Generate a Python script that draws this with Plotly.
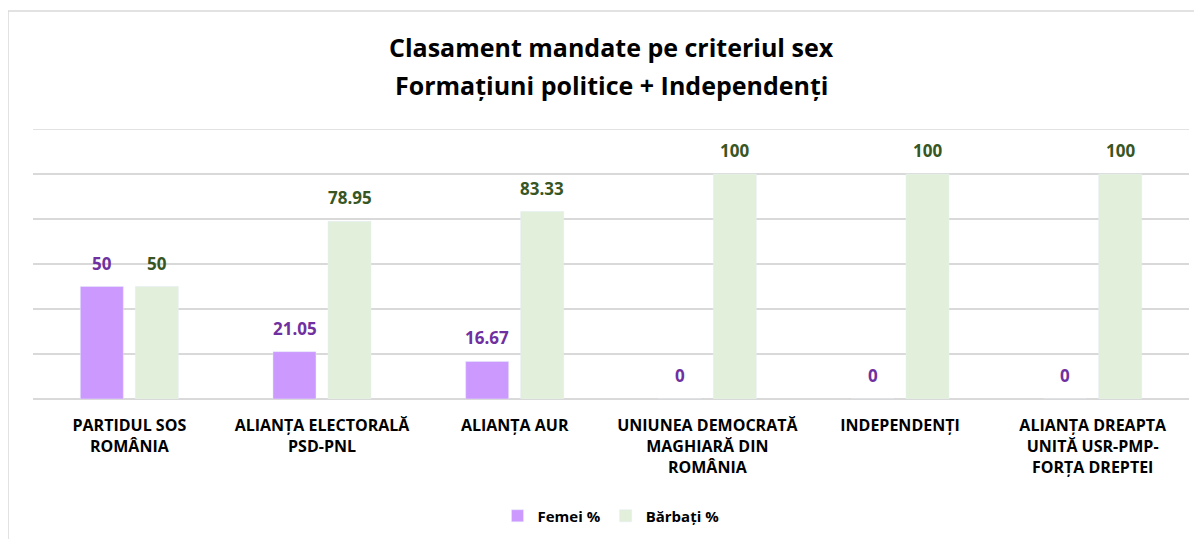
import plotly.graph_objects as go

categories = ["PARTIDUL SOS<br>ROMÂNIA", "ALIANȚA ELECTORALĂ<br>PSD-PNL", "ALIANȚA AUR",
              "UNIUNEA DEMOCRATĂ<br>MAGHIARĂ DIN<br>ROMÂNIA", "INDEPENDENȚI",
              "ALIANȚA DREAPTA<br>UNITĂ USR-PMP-<br>FORȚA DREPTEI"]
femei = [50, 21.05, 16.67, 0, 0, 0]
barbati = [50, 78.95, 83.33, 100, 100, 100]
series_names = ["Femei %", "Bărbați %"]
title_lines = ["Clasament mandate pe criteriul sex", "Formațiuni politice + Independenți"]
y_ticks = [0, 20, 40, 60, 80, 100, 120]

FONT = "Open Sans"
BAR_F = "#CC99FF"
BAR_B = "#E2EFDA"
TXT_F = "#7030A0"
TXT_B = "#375623"
GRID = "#D9D9D9"

W, H = 1194, 531
L, R, T, B = 25, 13, 121, 140
PW, PH = W - L - R, H - T - B

fig = go.Figure()
fig.add_trace(go.Bar(x=categories, y=femei, name=f"<b>{series_names[0]}</b>", marker_color=BAR_F))
fig.add_trace(go.Bar(x=categories, y=barbati, name=f"<b>{series_names[1]}</b>", marker_color=BAR_B))

annotations = []
for cat, vf, vb in zip(categories, femei, barbati):
    for v, shift, col in ((vf, -27.5, TXT_F), (vb, 27.5, TXT_B)):
        annotations.append(dict(x=cat, y=v, xref="x", yref="y", text=f"<b>{v:g}</b>",
                                showarrow=False, xshift=shift, yshift=10, yanchor="bottom",
                                font=dict(family=FONT, size=17, color=col)))
for line, ypix in zip(title_lines, (39, 77)):
    annotations.append(dict(x=0.5, y=(T + PH - ypix) / PH, xref="paper", yref="paper",
                            text=f"<b>{line}</b>", showarrow=False, yanchor="middle",
                            font=dict(family=FONT, size=25, color="black")))

fig.update_layout(
    width=W, height=H,
    margin=dict(l=L, r=R, t=T, b=B, autoexpand=False),
    paper_bgcolor="white", plot_bgcolor="white",
    barmode="group", bargap=0.429, bargroupgap=0.218,
    showlegend=True,
    legend=dict(orientation="h", x=0.5, xanchor="center", y=(T + PH - 508) / PH, yanchor="middle",
                font=dict(family=FONT, size=15, color="black"), traceorder="normal"),
    annotations=annotations,
    font=dict(family=FONT),
    shapes=[
        dict(type="rect", xref="paper", yref="paper",
             x0=(0 - L) / PW, x1=1.2, y0=-1.0, y1=(T + PH - 3) / PH,
             line=dict(color=GRID, width=1.5), fillcolor="rgba(0,0,0,0)", layer="below"),
        dict(type="line", xref="paper", yref="y", x0=0, x1=1, y0=y_ticks[-1], y1=y_ticks[-1],
             line=dict(color=GRID, width=1.5), layer="below"),
    ],
)
fig.update_yaxes(range=[0, 120], tickvals=y_ticks, showticklabels=False, showgrid=True,
                 gridcolor=GRID, gridwidth=1.5, zeroline=True, zerolinecolor=GRID, zerolinewidth=2,
                 fixedrange=True, automargin=False)
fig.update_xaxes(tickfont=dict(family=FONT, size=16, color="black"), showline=False,
                 ticks="outside", ticklen=12, tickcolor="rgba(0,0,0,0)", automargin=False,
                 tickvals=categories, ticktext=[f"<b>{c}</b>" for c in categories])

fig.write_html("out.html")
